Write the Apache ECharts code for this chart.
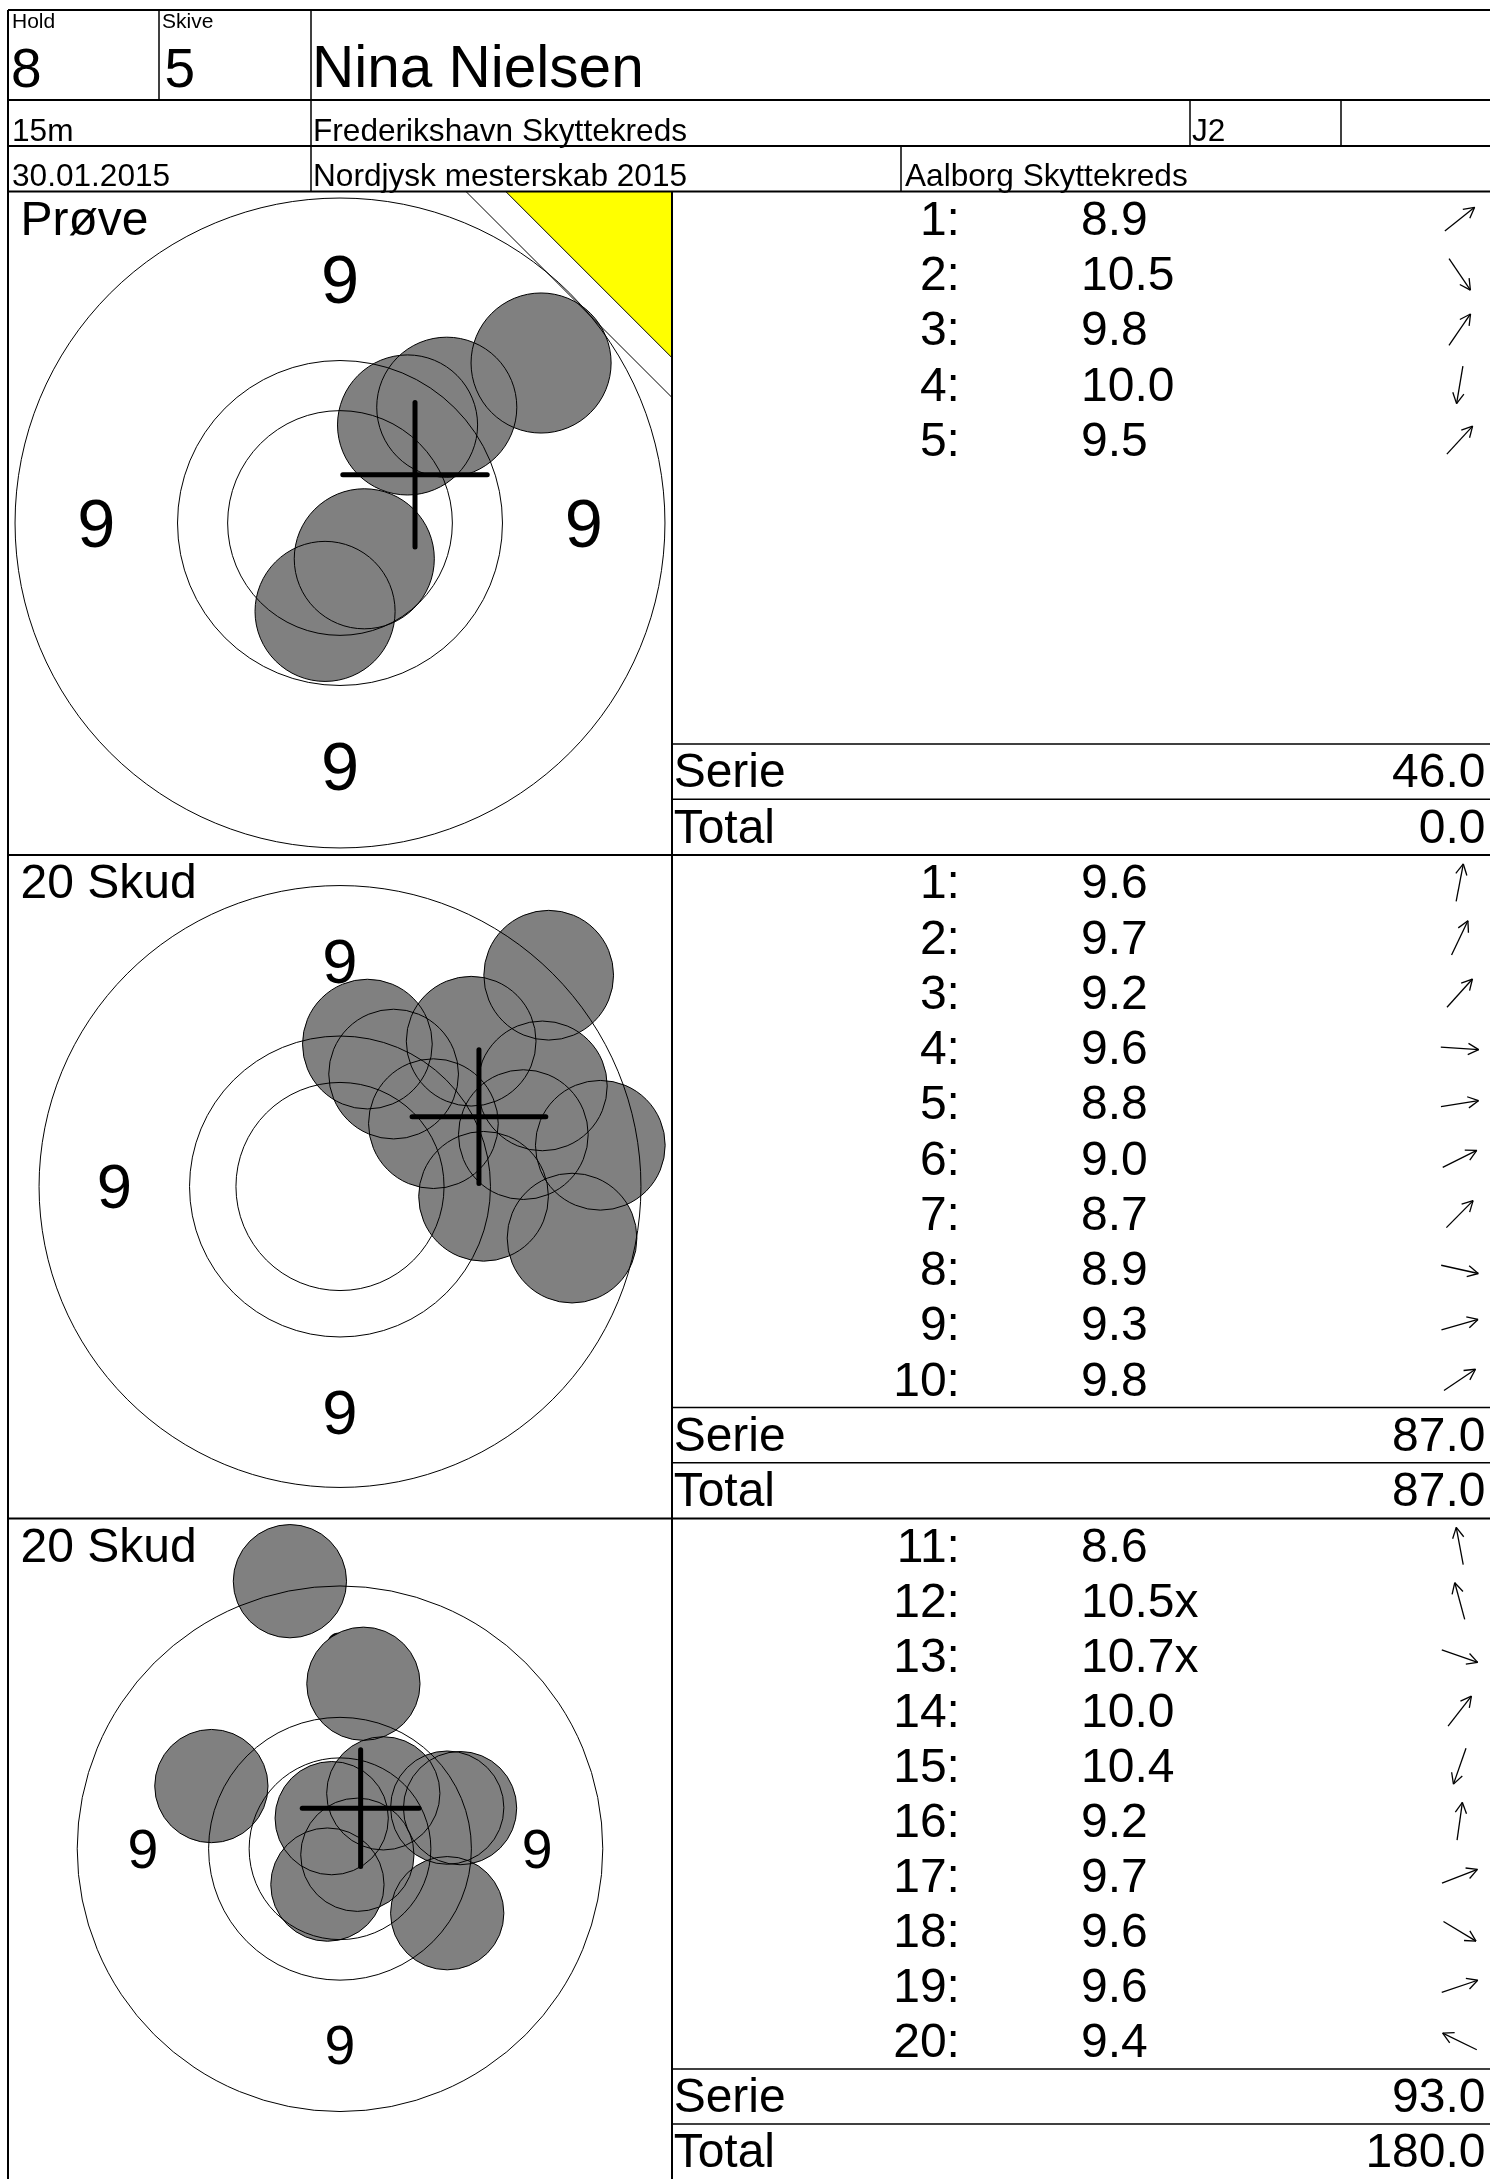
<!DOCTYPE html>
<html>
<head>
<meta charset="utf-8">
<script src="https://cdn.jsdelivr.net/npm/echarts@6/dist/echarts.min.js"></script>
<style>
html,body{margin:0;padding:0;background:#fff;}
#chart{width:1490px;height:2179px;}
</style>
</head>
<body>
<div id="chart"></div>
<script>
// ---------------- data ----------------
const holdNo = '8';
const skiveNo = '5';
const shooterName = 'Nina Nielsen';
const distanceLabel = '15m';
const clubName = 'Frederikshavn Skyttekreds';
const className = 'J2';
const matchDate = '30.01.2015';
const eventName = 'Nordjysk mesterskab 2015';
const organizerName = 'Aalborg Skyttekreds';
const headerLabels = ['Hold', 'Skive'];
const summaryLabels = ['Serie', 'Total'];

const panelTitles = ['Prøve', '20 Skud', '20 Skud'];
const isSighter = [true, false, false];
const shotNumbers = [
  [1, 2, 3, 4, 5],
  [1, 2, 3, 4, 5, 6, 7, 8, 9, 10],
  [11, 12, 13, 14, 15, 16, 17, 18, 19, 20]
];
const shotScores = [
  [8.9, 10.5, 9.8, 10.0, 9.5],
  [9.6, 9.7, 9.2, 9.6, 8.8, 9.0, 8.7, 8.9, 9.3, 9.8],
  [8.6, 10.5, 10.7, 10.0, 10.4, 9.2, 9.7, 9.6, 9.6, 9.4]
];
const innerTen = [
  [false, false, false, false, false],
  [false, false, false, false, false, false, false, false, false, false],
  [false, true, true, false, false, false, false, false, false, false]
];
// shot positions (mm from target centre, x right, y up)
const shotX = [
  [6.46, 0.78, 2.17, -0.48, 3.43],
  [0.95, 1.86, 4.55, 4.98, 9.03, 7.02, 7.24, 8.05, 6.36, 3.24],
  [-1.99, -0.33, 0.69, 1.72, -0.50, 0.93, 4.26, 4.26, 4.77, -5.11]
];
const shotY = [
  [5.14, -1.15, 3.15, -2.84, 3.72],
  [4.94, 3.90, 5.04, -0.34, 1.43, 3.49, 7.33, -1.79, 1.80, 2.18],
  [10.67, 1.22, -0.24, 2.21, -1.43, 6.58, 1.64, -2.57, 1.62, 2.50]
];
// group centre cross (mm)
const groupX = [2.41, 4.82, 0.82];
const groupY = [1.55, 2.42, 1.62];
// target rings (mm radius)
const ringRadii = [10.44, 5.22, 3.61];
const ringLabel = '9';
const shotRadius = 2.25;

// ---------------- layout / style ----------------
const FONT = '"Liberation Sans", Arial, Helvetica, sans-serif';
const BASE = 0.29; // baseline offset below 'middle' anchor, in em
const PANEL_TOP = [191.5, 855, 1518.5];
const PANEL_H = 663;
const TARGET_LEFT = 8.5;
const TABLE_LEFT = 672;
const TABLE_W = 818;
const ROWS = 12;
const VIEW_HALF = [10.65, 11.50, 13.17];
const LABEL_FONT_MM = 2.2;
const CROSS_HALF_MM = 2.32;
const COL_NUM = 0.352, COL_SCORE = 0.5, COL_ARROW = 0.963, COL_LEFT = 0.002, COL_RIGHT = 0.9945;
const ROW_FONT = 48;
const ROW_SHIFT = 2.5;
const ARROW_LEN = 38, BARB = 12, BARB_ANG = 28 * Math.PI / 180;

// derived summaries
const serieSums = shotScores.map(arr => arr.reduce((s, v) => s + Math.floor(v + 1e-9), 0));
const totals = [];
let running = 0;
serieSums.forEach((s, p) => { if (!isSighter[p]) running += s; totals.push(isSighter[p] ? 0 : running); });

function T(text, x, baseline, size, align) {
  return {
    type: 'text', z: 5, silent: true,
    style: {
      text: text, x: x, y: baseline - BASE * size, font: size + 'px ' + FONT, fill: '#000',
      textAlign: align || 'left', align: align || 'left',
      textVerticalAlign: 'middle', verticalAlign: 'middle'
    }
  };
}
function L(x1, y1, x2, y2, w) {
  return { type: 'line', z: 6, silent: true, shape: { x1, y1, x2, y2 }, style: { stroke: '#000', lineWidth: w || 1.5 } };
}

const option = { animation: false, backgroundColor: '#fff', grid: [], xAxis: [], yAxis: [], series: [], graphic: { elements: [] } };
const G = option.graphic.elements;

// header frame
const W = 1490;
G.push(L(8, 10, W, 10, 2));
G.push(L(8, 10, 8, 2179, 2));
G.push(L(8, 100, W, 100, 2));
G.push(L(8, 146, W, 146, 2));
G.push(L(8, 191.5, W, 191.5, 2));
G.push(L(159, 10, 159, 100, 1.5));
G.push(L(311, 10, 311, 191.5, 1.5));
G.push(L(1190, 100, 1190, 146, 1.5));
G.push(L(1341, 100, 1341, 146, 1.5));
G.push(L(901, 146, 901, 191.5, 1.5));
G.push(L(8, 855, W, 855, 2));
G.push(L(8, 1518.5, W, 1518.5, 2));
G.push(L(TABLE_LEFT, 191.5, TABLE_LEFT, 2179, 2));

// header texts (positioned by baseline)
G.push(T(headerLabels[0], 12, 28.5, 21));
G.push(T(headerLabels[1], 162, 28.5, 21));
G.push(T(holdNo, 11, 88, 55));
G.push(T(skiveNo, 164.5, 88, 55));
G.push(T(shooterName, 312, 88, 58.5));
G.push(T(distanceLabel, 12, 141, 31.6));
G.push(T(clubName, 313, 141, 31.6));
G.push(T(className, 1192, 141, 31.6));
G.push(T(matchDate, 12, 186, 31.6));
G.push(T(eventName, 313, 186, 31.6));
G.push(T(organizerName, 905, 186, 31.6));

for (let p = 0; p < 3; p++) {
  const top = PANEL_TOP[p];
  G.push(T(panelTitles[p], 20.5, top + 44, 48));
  if (isSighter[p]) {
    const right = TARGET_LEFT + PANEL_H;
    const tri = 0.25 * PANEL_H, ln = 0.31 * PANEL_H;
    G.push({ type: 'polygon', z: 1, silent: true,
      shape: { points: [[right - tri, top], [right, top], [right, top + tri]] },
      style: { fill: '#ffff00', stroke: '#000', lineWidth: 1 } });
    G.push({ type: 'line', z: 7, silent: true,
      shape: { x1: right - ln, y1: top, x2: right, y2: top + ln },
      style: { stroke: '#000', lineWidth: 1 } });
  }

  // target grid
  const gi = option.grid.length;
  option.grid.push({ left: TARGET_LEFT, top: top, width: PANEL_H, height: PANEL_H });
  option.xAxis.push({ type: 'value', gridIndex: gi, min: -VIEW_HALF[p], max: VIEW_HALF[p], show: false });
  option.yAxis.push({ type: 'value', gridIndex: gi, min: -VIEW_HALF[p], max: VIEW_HALF[p], show: false });
  // table grid
  const ti = gi + 1;
  option.grid.push({ left: TABLE_LEFT, top: top, width: TABLE_W, height: PANEL_H });
  option.xAxis.push({ type: 'value', gridIndex: ti, min: 0, max: 1, show: false });
  option.yAxis.push({ type: 'value', gridIndex: ti, min: 0, max: ROWS, inverse: true, show: false });

  const mid = (ringRadii[0] + ringRadii[1]) / 2;
  // ring labels
  option.series.push({
    type: 'custom', xAxisIndex: gi, yAxisIndex: gi, z: 2, silent: true,
    data: [[0, mid], [-mid, 0], [mid, 0], [0, -mid]],
    encode: { x: 0, y: 1 },
    renderItem: function (params, api) {
      const pt = api.coord([api.value(0), api.value(1)]);
      const fs = api.size([LABEL_FONT_MM, LABEL_FONT_MM])[0];
      return { type: 'text', z2: 0, style: { text: ringLabel, x: pt[0], y: pt[1] + (0.358 - BASE) * fs, font: fs.toFixed(1) + 'px ' + FONT,
        fill: '#000', textAlign: 'center', align: 'center', textVerticalAlign: 'middle', verticalAlign: 'middle' } };
    }
  });
  // shots
  option.series.push({
    type: 'custom', xAxisIndex: gi, yAxisIndex: gi, z: 2, silent: true,
    data: shotX[p].map((x, i) => [x, shotY[p][i], i]),
    encode: { x: 0, y: 1 },
    renderItem: function (params, api) {
      const pt = api.coord([api.value(0), api.value(1)]);
      const r = api.size([shotRadius, shotRadius])[0];
      return { type: 'group', children: [
        { type: 'circle', z2: 1, shape: { cx: pt[0], cy: pt[1], r: r }, style: { fill: '#808080', stroke: null } },
        { type: 'circle', z2: 3, shape: { cx: pt[0], cy: pt[1], r: r }, style: { fill: null, stroke: '#000', lineWidth: 1 } }
      ] };
    }
  });
  // rings
  option.series.push({
    type: 'custom', xAxisIndex: gi, yAxisIndex: gi, z: 2, silent: true,
    data: ringRadii.map(r => [0, 0, r]),
    encode: { x: 0, y: 1 },
    renderItem: function (params, api) {
      const c = api.coord([0, 0]);
      const r = api.size([api.value(2), api.value(2)])[0];
      return { type: 'circle', z2: 2, shape: { cx: c[0], cy: c[1], r: r }, style: { fill: null, stroke: '#000', lineWidth: 1 } };
    }
  });
  // group cross
  option.series.push({
    type: 'custom', xAxisIndex: gi, yAxisIndex: gi, z: 2, silent: true,
    data: [[groupX[p], groupY[p]]],
    encode: { x: 0, y: 1 },
    renderItem: function (params, api) {
      const pt = api.coord([api.value(0), api.value(1)]);
      const h = api.size([CROSS_HALF_MM, CROSS_HALF_MM])[0];
      const st = { stroke: '#000', lineWidth: 5, lineCap: 'round' };
      return { type: 'group', children: [
        { type: 'line', z2: 4, shape: { x1: pt[0] - h, y1: pt[1], x2: pt[0] + h, y2: pt[1] }, style: st },
        { type: 'line', z2: 4, shape: { x1: pt[0], y1: pt[1] - h, x2: pt[0], y2: pt[1] + h }, style: st }
      ] };
    }
  });

  // score table rows
  const pp = p;
  option.series.push({
    type: 'custom', xAxisIndex: ti, yAxisIndex: ti, z: 2, silent: true,
    data: shotScores[p].map((s, i) => [0.5, i + 0.5, i]),
    encode: { x: 0, y: 1 },
    renderItem: function (params, api) {
      const i = api.value(2);
      const yc = api.coord([0, api.value(1)])[1];
      const y = yc + ROW_SHIFT;
      const xn = api.coord([COL_NUM, 0])[0];
      const xs = api.coord([COL_SCORE, 0])[0];
      const xa = api.coord([COL_ARROW, 0])[0];
      const font = ROW_FONT + 'px ' + FONT;
      const scoreText = shotScores[pp][i].toFixed(1) + (innerTen[pp][i] ? 'x' : '');
      const ang = Math.atan2(shotY[pp][i], shotX[pp][i]);
      const vx = Math.cos(ang), vy = -Math.sin(ang);
      const tx = xa + vx * ARROW_LEN / 2, ty = yc + vy * ARROW_LEN / 2;
      const sx = xa - vx * ARROW_LEN / 2, sy = yc - vy * ARROW_LEN / 2;
      const bx = -vx, by = -vy;
      const rot = (a) => [bx * Math.cos(a) - by * Math.sin(a), bx * Math.sin(a) + by * Math.cos(a)];
      const b1 = rot(BARB_ANG), b2 = rot(-BARB_ANG);
      const ast = { stroke: '#000', lineWidth: 1.3 };
      return { type: 'group', children: [
        { type: 'text', style: { text: shotNumbers[pp][i] + ':', x: xn, y: y, font: font, fill: '#000', textAlign: 'right', align: 'right', textVerticalAlign: 'middle', verticalAlign: 'middle' } },
        { type: 'text', style: { text: scoreText, x: xs, y: y, font: font, fill: '#000', textAlign: 'left', align: 'left', textVerticalAlign: 'middle', verticalAlign: 'middle' } },
        { type: 'line', shape: { x1: sx, y1: sy, x2: tx, y2: ty }, style: ast },
        { type: 'line', shape: { x1: tx, y1: ty, x2: tx + b1[0] * BARB, y2: ty + b1[1] * BARB }, style: ast },
        { type: 'line', shape: { x1: tx, y1: ty, x2: tx + b2[0] * BARB, y2: ty + b2[1] * BARB }, style: ast }
      ] };
    }
  });
  // summary rows
  option.series.push({
    type: 'custom', xAxisIndex: ti, yAxisIndex: ti, z: 2, silent: true,
    data: [[0.5, ROWS - 1.5, serieSums[p], 0], [0.5, ROWS - 0.5, totals[p], 1]],
    encode: { x: 0, y: 1 },
    renderItem: function (params, api) {
      const y = api.coord([0, api.value(1)])[1] + ROW_SHIFT;
      const yTop = api.coord([0, api.value(1) - 0.5])[1];
      const xl = api.coord([COL_LEFT, 0])[0];
      const xr = api.coord([COL_RIGHT, 0])[0];
      const x0 = api.coord([0, 0])[0], x1 = api.coord([1, 0])[0];
      const font = ROW_FONT + 'px ' + FONT;
      return { type: 'group', children: [
        { type: 'line', shape: { x1: x0, y1: yTop, x2: x1, y2: yTop }, style: { stroke: '#000', lineWidth: 1.5 } },
        { type: 'text', style: { text: summaryLabels[api.value(3)], x: xl, y: y, font: font, fill: '#000', textAlign: 'left', align: 'left', textVerticalAlign: 'middle', verticalAlign: 'middle' } },
        { type: 'text', style: { text: Number(api.value(2)).toFixed(1), x: xr, y: y, font: font, fill: '#000', textAlign: 'right', align: 'right', textVerticalAlign: 'middle', verticalAlign: 'middle' } }
      ] };
    }
  });
}

const chart = echarts.init(document.getElementById('chart'), null, { renderer: 'canvas' });
chart.setOption(option);
</script>
</body>
</html>
